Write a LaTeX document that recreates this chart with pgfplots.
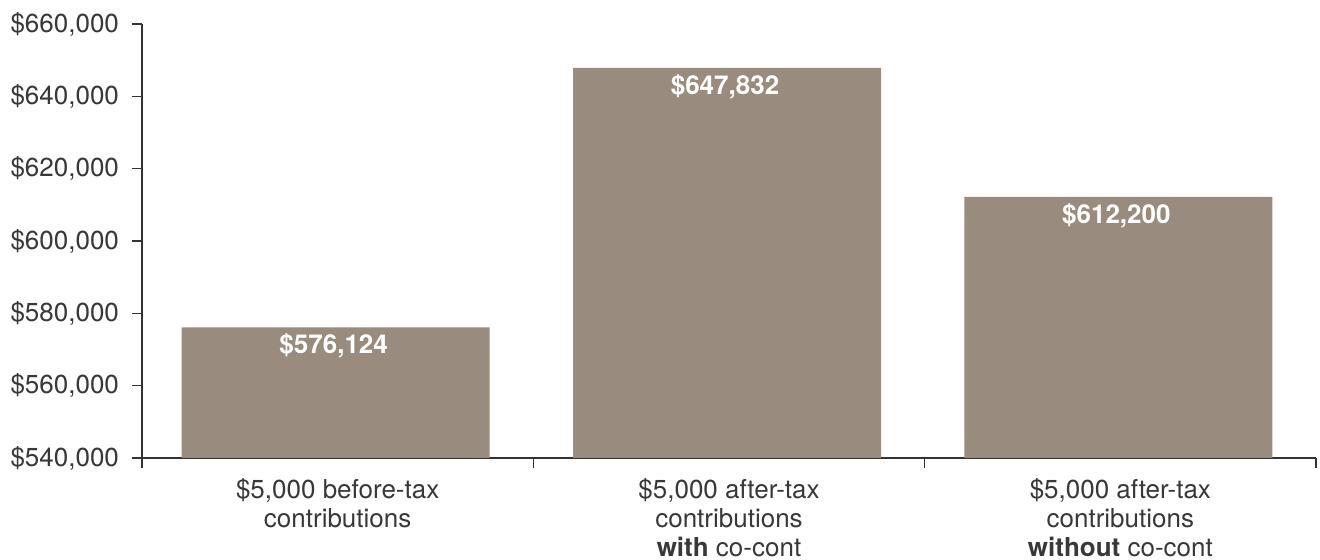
\documentclass[border=0pt]{standalone}
\usepackage{pgfplots}
\pgfplotsset{compat=1.18}
\usepackage{fontspec}
\setmainfont{TeX Gyre Heros}
\definecolor{barcol}{HTML}{998B7D}
\definecolor{axcol}{HTML}{333333}
\definecolor{txtcol}{HTML}{383838}
\begin{document}
\begin{tikzpicture}
\begin{axis}[
  name=ax,
  scale only axis,
  width=587pt, height=217pt,
  xmin=-0.5, xmax=2.5,
  ymin=540000, ymax=660000,
  axis x line*=bottom, axis y line*=left,
  axis line style={draw=axcol, line width=0.8pt},
  ytick={540000,560000,580000,600000,620000,640000,660000},
  yticklabel={\$\pgfmathprintnumber{\tick}},
  /pgf/number format/.cd, fixed, 1000 sep={,}, assume math mode=true,
  /pgfplots/.cd,
  scaled y ticks=false,
  tick align=outside,
  major tick length=5pt,
  ytick style={draw=axcol, line width=0.8pt},
  xtick={0,1,2},
  xticklabels={{\$5,000 before-tax\\contributions},{\$5,000 after-tax\\contributions\\\textbf{with} co-cont},{\$5,000 after-tax\\contributions\\\textbf{without} co-cont}},
  xtick style={draw=none},
  x tick label style={align=center, font=\fontsize{13}{14.6}\selectfont, text=txtcol, yshift=-1.5pt},
  y tick label style={font=\fontsize{13}{14.6}\selectfont, text=txtcol, xshift=-3pt},
  extra x ticks={-0.5,0.5,1.5,2.5},
  extra x tick labels={},
  extra x tick style={xtick style={draw=axcol, line width=0.8pt}, major tick length=5pt},
  ybar, bar width=154pt,
  point meta=explicit symbolic,
  nodes near coords,
  nodes near coords align={below},
  every node near coord/.append style={font=\fontsize{13}{14.6}\selectfont\bfseries, text=white, inner sep=0pt, yshift=-3pt, xshift=-1pt},
  clip=false,
]
\addplot[fill=barcol, draw=none, bar shift=-1pt] coordinates {
  (0,576124) [\$576,124]
  (1,647832) [\$647,832]
  (2,612200) [\$612,200]
};
\end{axis}
\pgfresetboundingbox
\path (ax.south west) ++(-71pt,-51pt) rectangle ++(660pt,280pt);
\end{tikzpicture}
\end{document}
